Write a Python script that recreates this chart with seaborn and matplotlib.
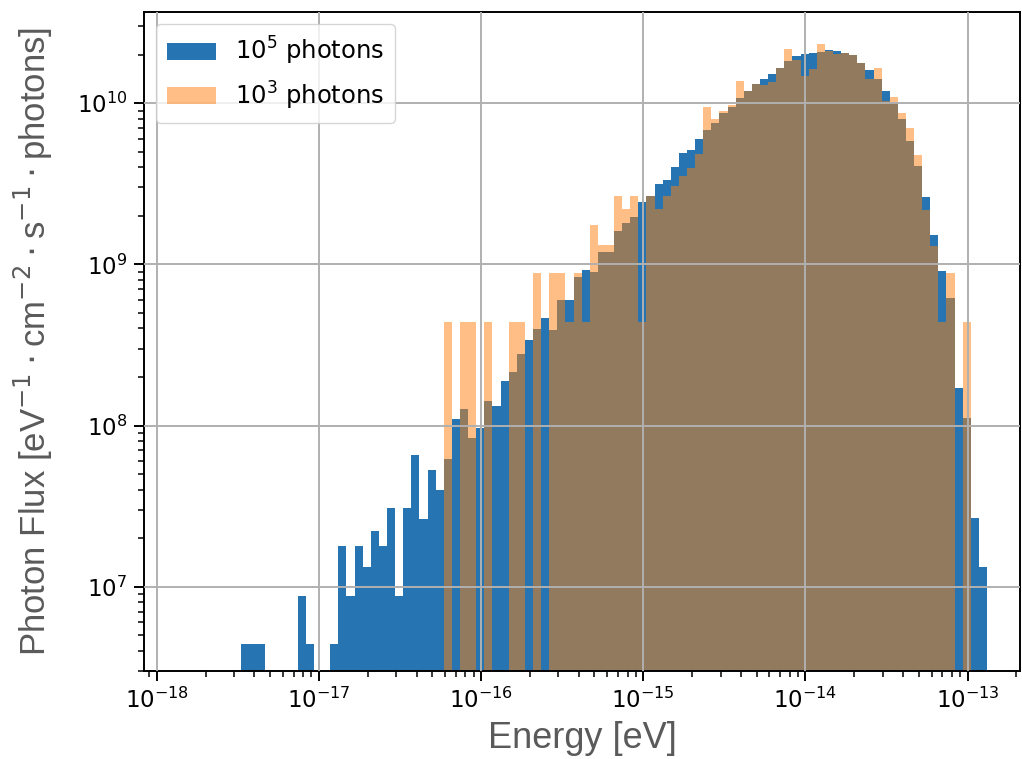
import numpy as np
import matplotlib
matplotlib.use("Agg")
import matplotlib.pyplot as plt
from matplotlib.patches import Patch
from matplotlib.ticker import NullFormatter
import seaborn as sns

plt.rcParams["mathtext.fontset"] = "dejavusans"

# binning: 92 log bins of 0.05 decade starting at 10^-17.48 eV
log_lo = -17.48
n_bins = 92
log_edges = np.linspace(log_lo, log_lo + 0.05 * n_bins, n_bins + 1)
bin_edges = list(10 ** log_edges)
energy = 10 ** (0.5 * (log_edges[:-1] + log_edges[1:]))

# photon flux per bin
flux_1e5 = [
    4.4e6, 4.4e6, 4.4e6, 0, 0, 0, 0, 8.8e6, 4.4e6, 0,
    0, 4.4e6, 1.78e7, 8.8e6, 1.78e7, 1.33e7, 2.2e7, 1.78e7, 3.08e7, 8.8e6,
    3.08e7, 6.6e7, 2.64e7, 5.28e7, 3.96e7, 6.16e7, 1.1e8, 1.27e8, 8.4e7, 9.7e7,
    1.41e8, 1.32e8, 1.89e8, 2.16e8, 2.79e8, 3.41e8, 3.95e8, 4.63e8, 3.9e8, 6.0e8,
    6.0e8, 8.3e8, 9.16e8, 8.9e8, 1.19e9, 1.2e9, 1.61e9, 1.81e9, 1.96e9, 2.43e9,
    2.66e9, 3.13e9, 3.33e9, 4.0e9, 4.91e9, 5.14e9, 6.0e9, 6.78e9, 7.5e9, 8.67e9,
    9.5e9, 1.08e10, 1.19e10, 1.32e10, 1.42e10, 1.51e10, 1.65e10, 1.83e10, 1.95e10, 2.01e10,
    2.04e10, 2.07e10, 2.14e10, 2.11e10, 2.05e10, 1.98e10, 1.78e10, 1.61e10, 1.41e10, 1.19e10,
    1.0e10, 7.94e9, 5.86e9, 4.06e9, 2.62e9, 1.52e9, 9.07e8, 6.17e8, 1.7e8, 1.11e8,
    2.66e7, 1.33e7,
]
flux_1e3 = [
    0, 0, 0, 0, 0, 0, 0, 0, 0, 0,
    0, 0, 0, 0, 0, 0, 0, 0, 0, 0,
    0, 0, 0, 0, 0, 4.4e8, 0, 4.4e8, 4.4e8, 0,
    4.4e8, 0, 0, 4.4e8, 4.4e8, 0, 8.8e8, 0, 8.8e8, 8.8e8,
    4.4e8, 8.8e8, 4.4e8, 1.76e9, 1.32e9, 1.32e9, 2.64e9, 2.2e9, 2.64e9, 4.4e8,
    2.64e9, 2.2e9, 2.64e9, 3.08e9, 3.52e9, 3.96e9, 4.84e9, 9.45e9, 7.92e9, 9.0e9,
    9.68e9, 1.38e10, 1.19e10, 1.32e10, 1.3e10, 1.36e10, 1.65e10, 2.17e10, 1.85e10, 1.48e10,
    1.63e10, 2.34e10, 2.1e10, 2.03e10, 2.05e10, 1.98e10, 1.78e10, 1.41e10, 1.65e10, 1.03e10,
    1.09e10, 8.66e9, 6.97e9, 4.74e9, 2.18e9, 1.3e9, 4.4e8, 8.8e8, 0, 4.4e8,
    0, 0,
]

blue = "#2675b2"
orange = "#ff7f0e"

fig = plt.figure(figsize=(10.22, 7.59), dpi=100)
ax = fig.add_axes([0.141, 0.116, 0.857, 0.868])

sns.histplot(x=energy, weights=flux_1e5, bins=bin_edges, color=blue,
             alpha=1.0, linewidth=0, edgecolor="none", ax=ax)
sns.histplot(x=energy, weights=flux_1e3, bins=bin_edges, color=orange,
             alpha=0.5, linewidth=0, edgecolor="none", ax=ax)

ax.set_xscale("log")
ax.set_yscale("log")
ax.set_xlim(10 ** -18.078, 10 ** -12.677)
ax.set_ylim(3.0e6, 3.67e10)
ax.xaxis.set_minor_formatter(NullFormatter())
ax.yaxis.set_minor_formatter(NullFormatter())
ax.grid(True, which="major", color="#b0b0b0", linewidth=1.4)
ax.set_axisbelow(False)
for s in ax.spines.values():
    s.set_linewidth(1.4)
ax.tick_params(axis="both", which="major", labelsize=16.5, length=7, width=1.4, pad=5)
ax.tick_params(axis="both", which="minor", length=4, width=1.1)

lab_font = dict(family="Liberation Sans", color="#5a5a5a")
ax.set_xlabel("Energy [eV]", size=26, labelpad=6, **lab_font)
ax.set_ylabel(r"Photon Flux [eV$^{-1}\cdot$cm$^{-2}\cdot$s$^{-1}\cdot$photons]",
              size=25, labelpad=16, **lab_font)

handles = [Patch(facecolor=blue, label=r"$10^5$ photons"),
           Patch(facecolor=orange, alpha=0.5, label=r"$10^3$ photons")]
ax.legend(handles=handles, loc="upper left", fontsize=17.5, handlelength=2.0,
          borderaxespad=0.5, borderpad=0.45)

fig.savefig("out.png", dpi=100)
